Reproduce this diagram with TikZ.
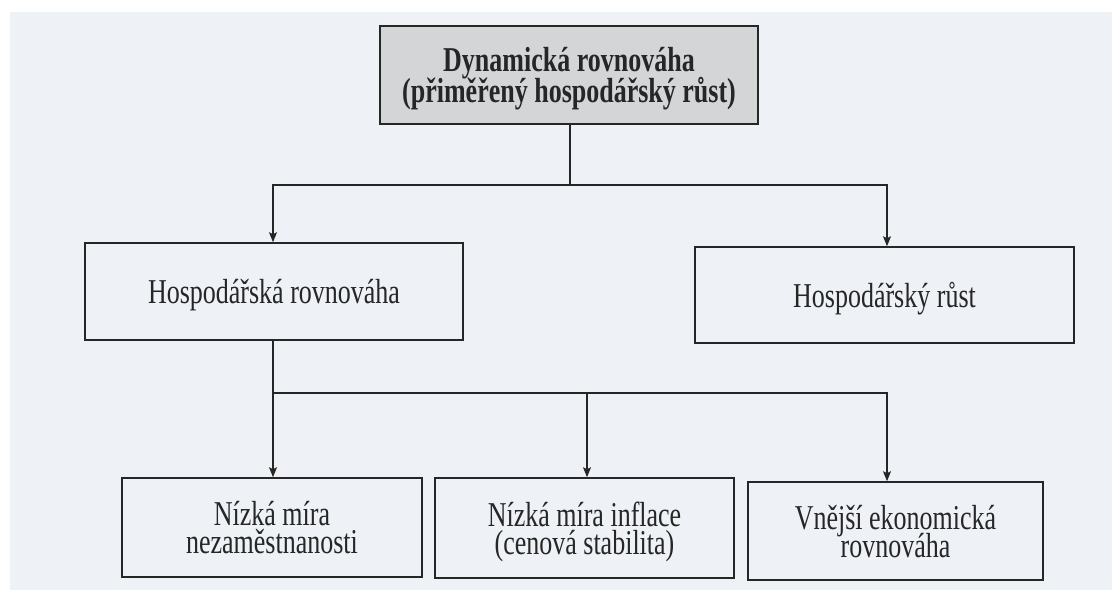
\documentclass[tikz,border=0pt]{standalone}
\usepackage{fontspec}
\setmainfont{Liberation Serif}
\usetikzlibrary{arrows.meta}
\definecolor{bgpaper}{HTML}{EEF1F5}
\definecolor{topfill}{HTML}{D4D5D7}
\definecolor{ink}{HTML}{262626}
\newcommand{\tightlines}{\lineskiplimit=-30pt\relax}
\tikzset{
  box/.style={draw=ink, line width=1.2pt, rectangle, inner sep=0pt, align=center,
    text=ink, yscale=1.34, text depth=0pt,
    font=\fontsize{26}{20.8}\selectfont\tightlines},
  conn/.style={draw=ink, line width=1.2pt},
  arr/.style={conn, -{Stealth[length=10pt,width=8pt,inset=2pt]}}
}
\begin{document}
\begin{tikzpicture}[x=1pt,y=-1pt]
\useasboundingbox (0,0) rectangle (1112,590);
\fill[white] (0,0) rectangle (1112,590);
\fill[bgpaper] (10,12) rectangle (1112,590);

\node[box, fill=topfill, minimum width=378pt, minimum height=73.1pt,
  font=\bfseries\fontsize{26}{22.6}\selectfont\tightlines] (top) at (569,75)
  {Dynamická rovnováha\\(přiměřený hospodářský růst)};

\node[box, fill=bgpaper, minimum width=378pt, minimum height=72.4pt] (L) at (274,291.5)
  {Hospodářská rovnováha};
\node[box, fill=bgpaper, minimum width=379pt, minimum height=71.6pt] (R) at (884.5,295)
  {Hospodářský růst};

\node[box, fill=bgpaper, minimum width=300pt, minimum height=73.9pt] (b1) at (272,527.5)
  {Nízká míra\\nezaměstnanosti};
\node[box, fill=bgpaper, minimum width=299pt, minimum height=74.6pt] (b2) at (584.5,528)
  {Nízká míra inflace\\(cenová stabilita)};
\node[box, fill=bgpaper, minimum width=295pt, minimum height=73.1pt] (b3) at (895.5,531)
  {Vnější ekonomická\\rovnováha};

\coordinate (j1) at (570,185);
\draw[conn] ([xshift=1pt]top.south) -- (j1);
\draw[arr] (j1) -| ([xshift=-1pt]L.north);
\draw[arr] (j1) -| ([xshift=2.5pt]R.north);

\coordinate (j2) at (273,393);
\draw[conn] ([xshift=-1pt]L.south) -- (j2);
\draw[arr] (j2) -- ([xshift=1pt]b1.north);
\draw[arr] (j2) -| ([xshift=2.5pt]b2.north);
\draw[arr] (j2) -| ([xshift=-8.5pt]b3.north);
\end{tikzpicture}
\end{document}
